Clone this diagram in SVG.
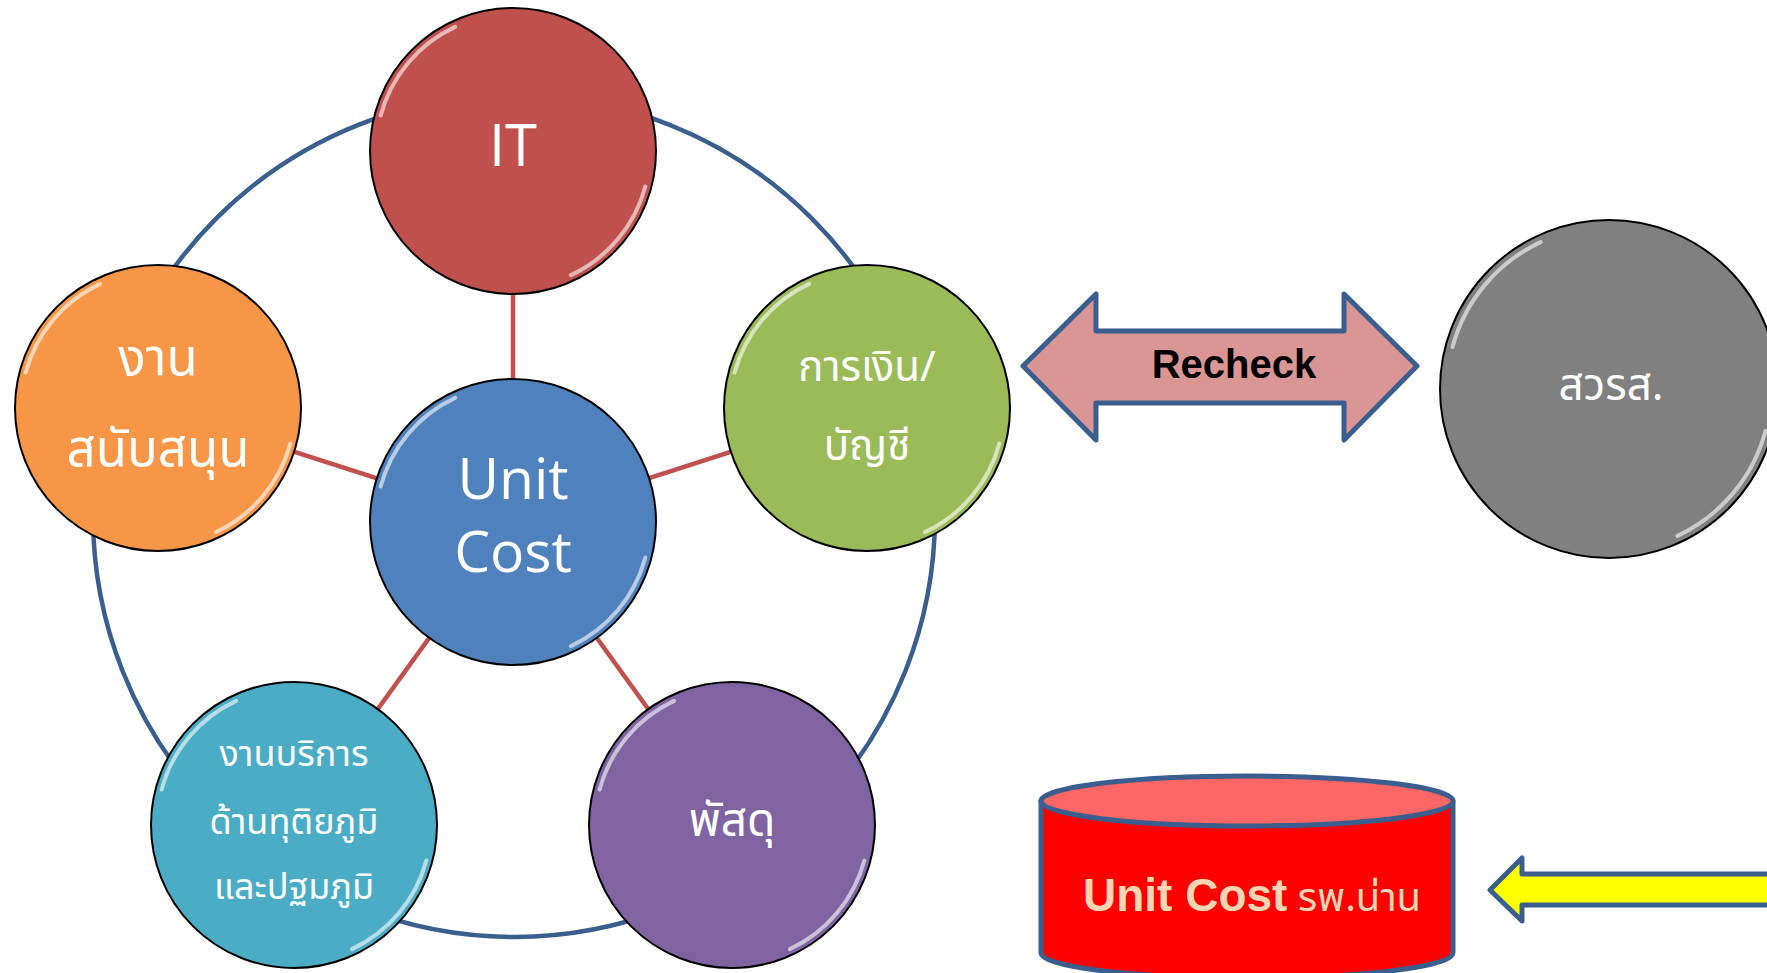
<svg xmlns="http://www.w3.org/2000/svg" width="1767" height="973" viewBox="0 0 1767 973">
<style>
.ring{fill:none;stroke:#3A5F8E;stroke-width:4.5}
.spoke{stroke:#C0504D;stroke-width:4.5}
.node{stroke:#000;stroke-width:2}
.hl{fill:none;stroke:#fff;stroke-width:4;opacity:.6;stroke-linecap:round}
.en{font-family:"Open Sans","Liberation Sans",sans-serif;fill:#fff;text-anchor:middle}
.th{font-family:"Noto Sans Thai","Noto Sans","Liberation Sans",sans-serif;fill:#fff;text-anchor:middle}
.shape{stroke:#3A5F8E;stroke-width:5;stroke-linejoin:round}
</style>
<rect width="1767" height="973" fill="#fff"/>
<g id="connectors">
<circle class="ring" cx="514" cy="516" r="421"/>
<line class="spoke" x1="513" y1="522" x2="513" y2="151"/>
<line class="spoke" x1="513" y1="522" x2="158" y2="408"/>
<line class="spoke" x1="513" y1="522" x2="867" y2="408"/>
<line class="spoke" x1="513" y1="522" x2="294" y2="825"/>
<line class="spoke" x1="513" y1="522" x2="732" y2="825"/>
</g>
<g id="node-it">
<circle class="node" cx="513" cy="151" r="143" fill="#C0504D"/>
<circle class="hl" cx="513" cy="151" r="137" pathLength="360" stroke-dasharray="50 130 50 130" stroke-dashoffset="-15"/>
<text class="en" x="513" y="166" font-size="58">IT</text>
</g>
<g id="node-unitcost">
<circle class="node" cx="513" cy="522" r="143" fill="#4F81BD"/>
<circle class="hl" cx="513" cy="522" r="137" pathLength="360" stroke-dasharray="50 130 50 130" stroke-dashoffset="-15"/>
<text class="en" x="513" y="499" font-size="57">Unit</text>
<text class="en" x="513" y="572" font-size="57">Cost</text>
</g>
<g id="node-support">
<circle class="node" cx="158" cy="408" r="143" fill="#F79646"/>
<circle class="hl" cx="158" cy="408" r="137" pathLength="360" stroke-dasharray="50 130 50 130" stroke-dashoffset="-15"/>
<text class="th" x="158" y="375" font-size="51">งาน</text>
<text class="th" x="158" y="466" font-size="51">สนับสนุน</text>
</g>
<g id="node-finance">
<circle class="node" cx="867" cy="408" r="143" fill="#9BBB59"/>
<circle class="hl" cx="867" cy="408" r="137" pathLength="360" stroke-dasharray="50 130 50 130" stroke-dashoffset="-15"/>
<text class="th" x="867" y="381" font-size="42">การเงิน/</text>
<text class="th" x="867" y="460" font-size="42">บัญชี</text>
</g>
<g id="node-service">
<circle class="node" cx="294" cy="825" r="143" fill="#4BACC6"/>
<circle class="hl" cx="294" cy="825" r="137" pathLength="360" stroke-dasharray="50 130 50 130" stroke-dashoffset="-15"/>
<text class="th" x="294" y="766" font-size="36">งานบริการ</text>
<text class="th" x="294" y="834" font-size="36">ด้านทุติยภูมิ</text>
<text class="th" x="294" y="899" font-size="36">และปฐมภูมิ</text>
</g>
<g id="node-supply">
<circle class="node" cx="732" cy="825" r="143" fill="#8064A2"/>
<circle class="hl" cx="732" cy="825" r="137" pathLength="360" stroke-dasharray="50 130 50 130" stroke-dashoffset="-15"/>
<text class="th" x="732" y="836" font-size="46">พัสดุ</text>
</g>
<g id="node-hsri">
<circle class="node" cx="1609" cy="389" r="169" fill="#808080"/>
<circle class="hl" cx="1609" cy="389" r="162" pathLength="360" stroke-dasharray="50 130 50 130" stroke-dashoffset="-15"/>
<text class="th" x="1611" y="400" font-size="44">สวรส.</text>
</g>
<g id="recheck-arrow">
<polygon class="shape" fill="#D99694" points="1023,366 1096,294 1096,331 1344,331 1344,294 1417,366 1344,440 1344,403 1096,403 1096,440"/>
<text x="1234" y="378" font-family="Liberation Sans,Arial,sans-serif" font-weight="bold" font-size="40" fill="#000" text-anchor="middle">Recheck</text>
</g>
<g id="node-db">
<path class="shape" fill="#FF0000" d="M1041,801 L1041,953 A206,25 0 0 0 1453,953 L1453,801 Z"/>
<ellipse class="shape" cx="1247" cy="801" rx="206" ry="25" fill="#FF6666"/>
<text y="911" font-size="46" fill="#FCD5B5" font-family="Liberation Sans,Arial,sans-serif"><tspan x="1083" font-weight="bold">Unit Cost</tspan><tspan font-family="Noto Sans Thai,Noto Sans,sans-serif" font-size="40"> รพ.น่าน</tspan></text>
</g>
<g id="yellow-arrow">
<polygon class="shape" fill="#FFFF00" points="1490,890 1522,858 1522,874 1780,874 1780,905 1522,905 1522,921"/>
</g>
</svg>
